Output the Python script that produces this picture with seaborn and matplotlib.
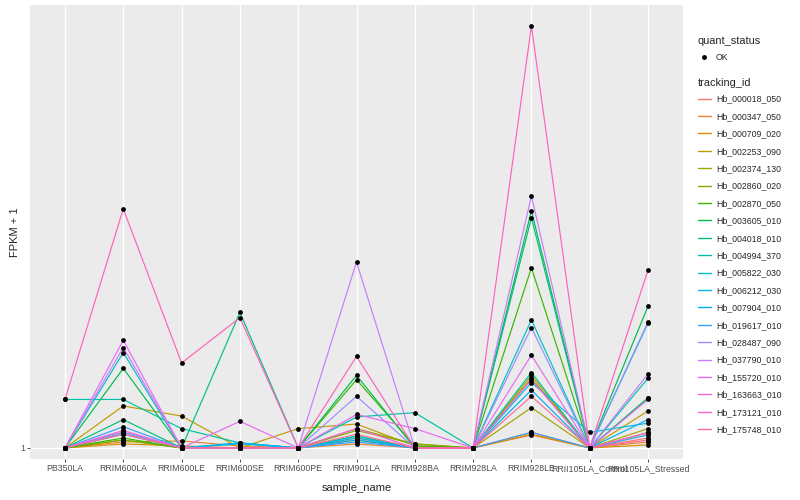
import pandas as pd
import matplotlib
matplotlib.use('Agg')
import matplotlib.pyplot as plt
import seaborn as sns
from matplotlib.lines import Line2D
from matplotlib.ticker import FixedLocator, NullLocator, FixedFormatter

samples = ['PB350LA', 'RRIM600LA', 'RRIM600LE', 'RRIM600SE', 'RRIM600PE', 'RRIM901LA',
           'RRIM928BA', 'RRIM928LA', 'RRIM928LE', 'RRII105LA_Control', 'RRII105LA_Stressed']

tracking_ids = ['Hb_000018_050', 'Hb_000347_050', 'Hb_000709_020', 'Hb_002253_090', 'Hb_002374_130',
                'Hb_002860_020', 'Hb_002870_050', 'Hb_003605_010', 'Hb_004018_010', 'Hb_004994_370',
                'Hb_005822_030', 'Hb_006212_030', 'Hb_007904_010', 'Hb_019617_010', 'Hb_028487_090',
                'Hb_037790_010', 'Hb_155720_010', 'Hb_163663_010', 'Hb_173121_010', 'Hb_175748_010']

# FPKM values per gene, in sample order (estimated)
hb_000018_050 = [0, 0.08, 0, 0, 0, 0.05, 0, 0, 0.08, 0, 0.05]
hb_000347_050 = [0, 0.03, 0.035, 0.01, 0, 0.02, 0, 0, 0.066, 0, 0.03]
hb_000709_020 = [0, 0.02, 0.01, 0, 0, 0.04, 0, 0, 0.07, 0, 0.015]
hb_002253_090 = [0, 0.23, 0.17, 0, 0.10, 0.125, 0.01, 0, 0.43, 0, 0.20]
hb_002374_130 = [0, 0.04, 0, 0, 0, 0.10, 0.02, 0, 0.22, 0, 0.10]
hb_002860_020 = [0, 0.04, 0, 0, 0, 0.09, 0.02, 0, 0.41, 0, 0.077]
hb_002870_050 = [0, 0.05, 0, 0, 0, 0.40, 0.01, 0, 1.43, 0, 0.28]
hb_003605_010 = [0, 0.48, 0, 0, 0, 0.43, 0, 0, 2.22, 0, 1.01]
hb_004018_010 = [0, 0.15, 0, 0.95, 0, 0.06, 0, 0, 2.11, 0, 0.28]
hb_004994_370 = [0.27, 0.27, 0.10, 0.025, 0, 0.165, 0.19, 0, 0.45, 0, 0.41]
hb_005822_030 = [0, 0.60, 0, 0.025, 0, 0.06, 0, 0, 0.88, 0, 0.85]
hb_006212_030 = [0, 0.07, 0, 0.02, 0, 0.05, 0, 0, 0.38, 0.08, 0.13]
hb_007904_010 = [0, 0.08, 0, 0.025, 0, 0.04, 0, 0, 0.33, 0, 0.15]
hb_019617_010 = [0, 0.11, 0, 0, 0, 0.03, 0, 0, 0.08, 0, 0.066]
hb_028487_090 = [0, 0.08, 0, 0, 0, 0.29, 0, 0, 0.81, 0, 0.86]
hb_037790_010 = [0, 0.64, 0, 0, 0, 1.50, 0, 0, 2.46, 0, 0.44]
hb_155720_010 = [0, 0.70, 0, 0.14, 0, 0.18, 0.10, 0, 0.58, 0, 0.27]
hb_163663_010 = [0, 0.09, 0, 0, 0, 0.10, 0, 0, 0.40, 0, 0.08]
hb_173121_010 = [0.27, 2.25, 0.52, 0.90, 0, 0.57, 0, 0, 7.0, 0, 1.40]
hb_175748_010 = [0, 0.07, 0, 0, 0, 0.07, 0, 0, 0.29, 0, 0.04]

series = [hb_000018_050, hb_000347_050, hb_000709_020, hb_002253_090, hb_002374_130,
          hb_002860_020, hb_002870_050, hb_003605_010, hb_004018_010, hb_004994_370,
          hb_005822_030, hb_006212_030, hb_007904_010, hb_019617_010, hb_028487_090,
          hb_037790_010, hb_155720_010, hb_163663_010, hb_173121_010, hb_175748_010]

# ggplot2 default hue palette for 20 levels
hue_colors = ['#F8766D', '#EA8331', '#D89000', '#C09B00', '#A3A500', '#7CAE00', '#39B600',
              '#00BB4E', '#00BF7D', '#00C1A3', '#00BFC4', '#00BAE0', '#00B0F6', '#35A2FF',
              '#9590FF', '#C77CFF', '#E76BF3', '#FA62DB', '#FF62BC', '#FF6C91']

rows = []
for tid, vals in zip(tracking_ids, series):
    for i, (s, v) in enumerate(zip(samples, vals)):
        rows.append({'tracking_id': tid, 'sample_name': s, 'pos': i,
                     'fpkm': v, 'quant_status': 'OK'})
df = pd.DataFrame(rows)
df['fpkm1'] = df['fpkm'] + 1

sns.set_theme(style='darkgrid', rc={'axes.facecolor': '#EBEBEB', 'grid.color': 'white',
                                    'grid.linewidth': 1.0})
plt.rcParams['font.family'] = ['Liberation Sans', 'DejaVu Sans']

fig, ax = plt.subplots(figsize=(8, 5), dpi=100)
fig.subplots_adjust(left=30 / 800, right=683 / 800, top=1 - 5 / 500, bottom=1 - 459 / 500)

sns.lineplot(data=df, x='pos', y='fpkm1', hue='tracking_id', hue_order=tracking_ids,
             palette=hue_colors, linewidth=0.85, estimator=None, sort=False,
             legend=False, ax=ax)
sns.scatterplot(data=df, x='pos', y='fpkm1', color='black', s=12, linewidth=0,
                legend=False, ax=ax, zorder=3)

ax.set_yscale('log')
ax.set_ylim(0.947, 8.87)
ax.set_xlim(-0.6, len(samples) - 0.4)
ax.yaxis.set_major_locator(FixedLocator([1]))
ax.yaxis.set_major_formatter(FixedFormatter(['1']))
ax.yaxis.set_minor_locator(NullLocator())
ax.set_xticks(range(len(samples)))
ax.set_xticklabels(samples)
ax.grid(True, which='major', color='white', linewidth=1.0)
for sp in ax.spines.values():
    sp.set_visible(False)
ax.tick_params(axis='both', which='major', length=2.2, width=0.6, color='#333333',
               labelsize=6.3, labelcolor='#4D4D4D', pad=1.5, bottom=True, left=True)
ax.set_xlabel('sample_name', fontsize=8, labelpad=7)
ax.set_ylabel('FPKM + 1', fontsize=8, labelpad=0)

# legends
pt = Line2D([], [], marker='o', color='black', linestyle='', markersize=2.5)
leg1 = ax.legend(handles=[pt], labels=['OK'], title='quant_status', loc='upper left',
                 bbox_to_anchor=(694 / 800, 1 - 32 / 500), bbox_transform=fig.transFigure,
                 frameon=False, fontsize=6.3, title_fontsize=7.9, alignment='left',
                 handlelength=1.5, handletextpad=0.6, labelspacing=0.83, borderaxespad=0)
ax.add_artist(leg1)
handles = [Line2D([], [], color=c, linewidth=1.0) for c in hue_colors]
leg2 = ax.legend(handles=handles, labels=tracking_ids, title='tracking_id', loc='upper left',
                 bbox_to_anchor=(694 / 800, 1 - 75 / 500), bbox_transform=fig.transFigure,
                 frameon=False, fontsize=6.3, title_fontsize=7.9, alignment='left',
                 handlelength=1.5, handletextpad=0.6, labelspacing=0.96, borderaxespad=0)
leg2._legend_box.sep = 4.4

plt.savefig('out.png', dpi=100)
